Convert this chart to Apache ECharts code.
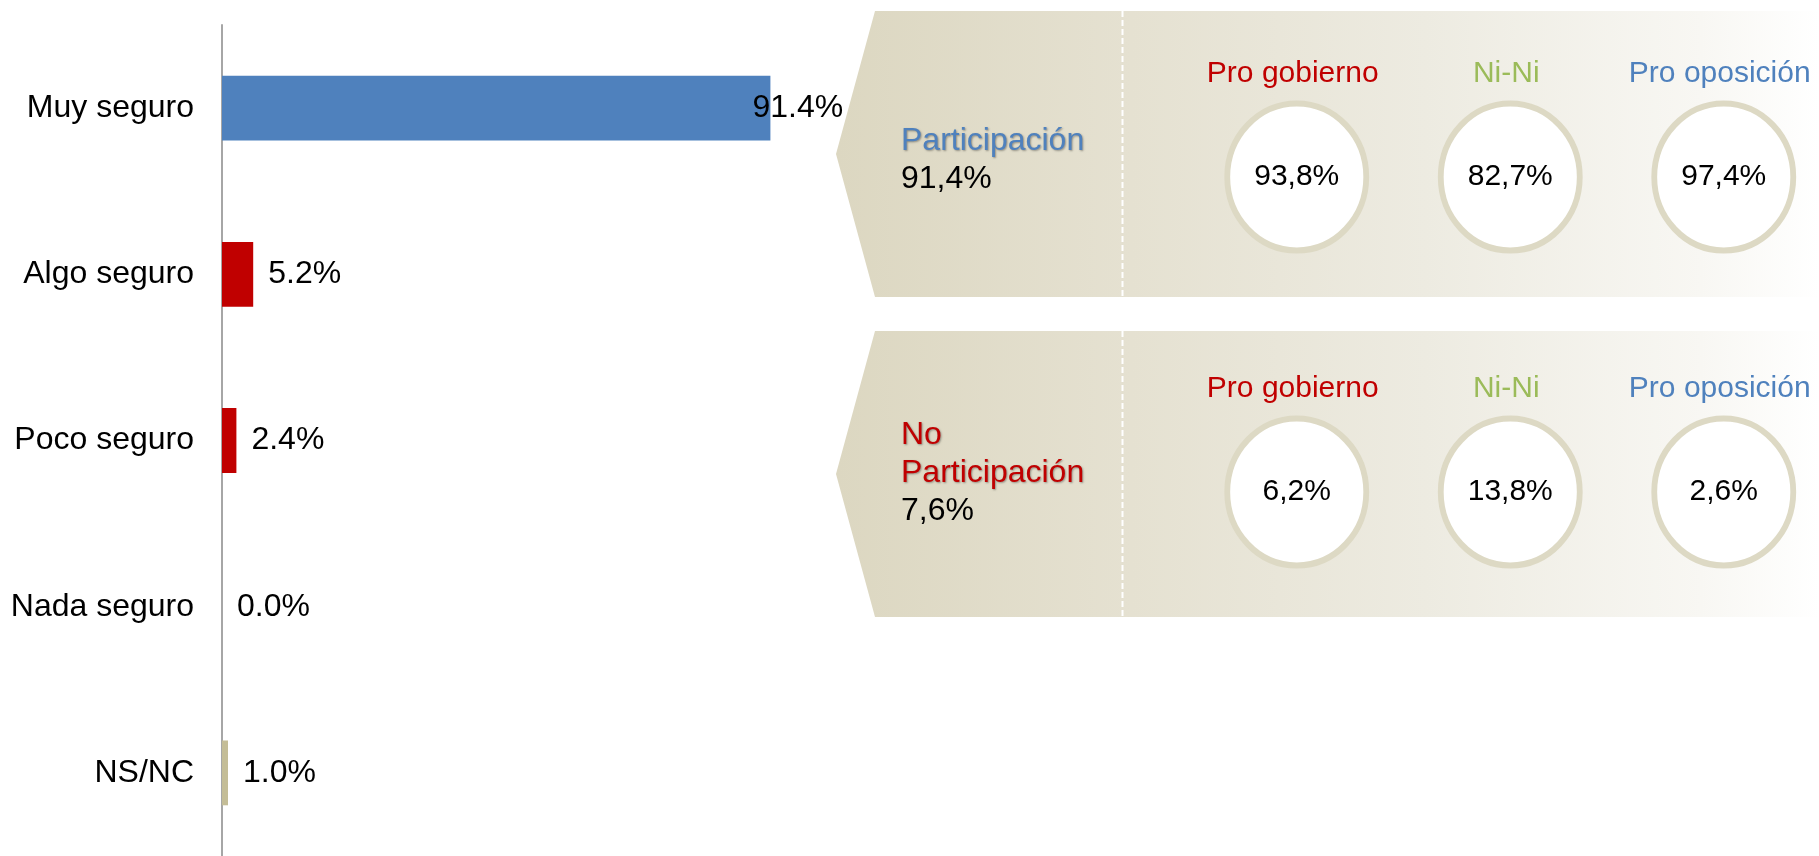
<!DOCTYPE html>
<html>
<head>
<meta charset="utf-8">
<script src="https://cdn.jsdelivr.net/npm/echarts@6/dist/echarts.min.js"></script>
<style>
html,body{margin:0;padding:0;background:#fff;}
#chart{width:1819px;height:856px;}
</style>
</head>
<body>
<div id="chart"></div>
<script>
// ---- data ----
const categories = ['Muy seguro', 'Algo seguro', 'Poco seguro', 'Nada seguro', 'NS/NC'];
const values = [91.4, 5.2, 2.4, 0.0, 1.0];
const barColors = ['#4F81BD', '#C00000', '#C00000', '#C00000', '#C4BD97'];

const groups = ['Pro gobierno', 'Ni-Ni', 'Pro oposición'];
const groupColors = ['#C00000', '#9BBB59', '#4F81BD'];
const panelRows = ['Participación', 'No Participación'];
const panelTitles = ['Participación', 'No\nParticipación'];
const panelTitleColors = ['#4F81BD', '#C00000'];
const panelTotals = ['91,4%', '7,6%'];
const participacion = [93.8, 82.7, 97.4];
const noParticipacion = [6.2, 13.8, 2.6];

// ---- build ----
const FONT = "'Liberation Sans', Arial, sans-serif";
const fmtComma = v => v.toFixed(1).replace('.', ',') + '%';

const barData = values.map((v, i) => {
  const item = { value: v, itemStyle: { color: barColors[i] } };
  if (i === 0) item.label = { offset: [-33, 0] };
  return item;
});

const circleData = [];
const headerData = [];
[participacion, noParticipacion].forEach((row, r) => {
  row.forEach((v, c) => {
    circleData.push({ value: [c, r, v] });
    headerData.push({ value: [c, r], label: { color: groupColors[c] } });
  });
});

// panel backgrounds (decorative)
const panelBoxes = [
  { top: 11, bottom: 297, textY: 141 },
  { top: 331, bottom: 617, textY: 435 }
];
const graphics = [];
panelBoxes.forEach((p, i) => {
  const mid = (p.top + p.bottom) / 2;
  graphics.push({
    type: 'polygon', z: 0, silent: true,
    shape: { points: [[875, p.top], [1819, p.top], [1819, p.bottom], [875, p.bottom], [836, mid]] },
    style: {
      fill: new echarts.graphic.LinearGradient(0, 0, 1, 0, [
        { offset: 0, color: '#DCD7C1' },
        { offset: 0.3, color: '#E5E1D1' },
        { offset: 0.6, color: '#EDEBE1' },
        { offset: 0.88, color: '#F8F7F3' },
        { offset: 1, color: '#FFFFFF' }
      ])
    }
  });
  graphics.push({
    type: 'line', z: 1, silent: true,
    shape: { x1: 1122.5, y1: p.top, x2: 1122.5, y2: p.bottom },
    style: { stroke: '#FFFFFF', lineWidth: 2, lineDash: [6, 3] }
  });
  const lines = panelTitles[i].split('\n');
  lines.forEach((t, k) => {
    graphics.push({
      type: 'text', z: 3, silent: true,
      style: {
        text: t, x: 901, y: p.textY + k * 38, fill: panelTitleColors[i],
        font: '32px ' + FONT, textAlign: 'left', textVerticalAlign: 'middle',
        textShadowColor: 'rgba(0,0,0,0.35)', textShadowBlur: 2,
        textShadowOffsetX: 1, textShadowOffsetY: 1
      }
    });
  });
  graphics.push({
    type: 'text', z: 3, silent: true,
    style: {
      text: panelTotals[i], x: 901, y: p.textY + lines.length * 38, fill: '#000000',
      font: '32px ' + FONT, textAlign: 'left', textVerticalAlign: 'middle'
    }
  });
});

const chart = echarts.init(document.getElementById('chart'), null, { renderer: 'canvas' });
chart.setOption({
  animation: false,
  backgroundColor: '#FFFFFF',
  textStyle: { fontFamily: FONT },
  graphic: graphics,
  grid: [
    { left: 222, top: 25, width: 600, height: 831, containLabel: false, outerBoundsMode: 'none' },
    { left: 1190, top: 19.5, width: 640.5, height: 630, containLabel: false, outerBoundsMode: 'none' }
  ],
  xAxis: [
    { type: 'value', gridIndex: 0, min: 0, max: 100, show: false },
    { type: 'category', gridIndex: 1, data: groups, show: false }
  ],
  yAxis: [
    {
      type: 'category', gridIndex: 0, data: categories, inverse: true,
      axisLine: { show: true, lineStyle: { color: '#A6A6A6', width: 2 } },
      axisTick: { show: false },
      splitLine: { show: false },
      axisLabel: { color: '#000000', fontSize: 32, fontFamily: FONT, margin: 28 }
    },
    { type: 'category', gridIndex: 1, data: panelRows, inverse: true, show: false }
  ],
  series: [
    {
      type: 'bar', xAxisIndex: 0, yAxisIndex: 0,
      data: barData, barWidth: '39%',
      label: {
        show: true, position: 'right', distance: 15,
        color: '#000000', fontSize: 32, fontFamily: FONT,
        formatter: p => p.value.toFixed(1) + '%'
      }
    },
    {
      type: 'scatter', xAxisIndex: 1, yAxisIndex: 1, z: 4,
      symbol: 'circle', symbolSize: [139, 147],
      itemStyle: { color: '#FFFFFF', borderColor: '#DDD9C4', borderWidth: 6, opacity: 1 },
      data: circleData,
      label: {
        show: true, position: 'inside', color: '#000000', fontSize: 30, fontFamily: FONT,
        formatter: p => fmtComma(p.value[2])
      }
    },
    {
      type: 'scatter', xAxisIndex: 1, yAxisIndex: 1, z: 4,
      symbol: 'circle', symbolSize: 1,
      itemStyle: { color: '#FFFFFF', opacity: 1, borderWidth: 0 },
      data: headerData,
      label: {
        show: true, position: 'inside', offset: [-4, -103], fontSize: 30, fontFamily: FONT,
        opacity: 1, textBorderWidth: 0,
        formatter: p => groups[p.value[0]]
      }
    }
  ]
});
</script>
</body>
</html>
